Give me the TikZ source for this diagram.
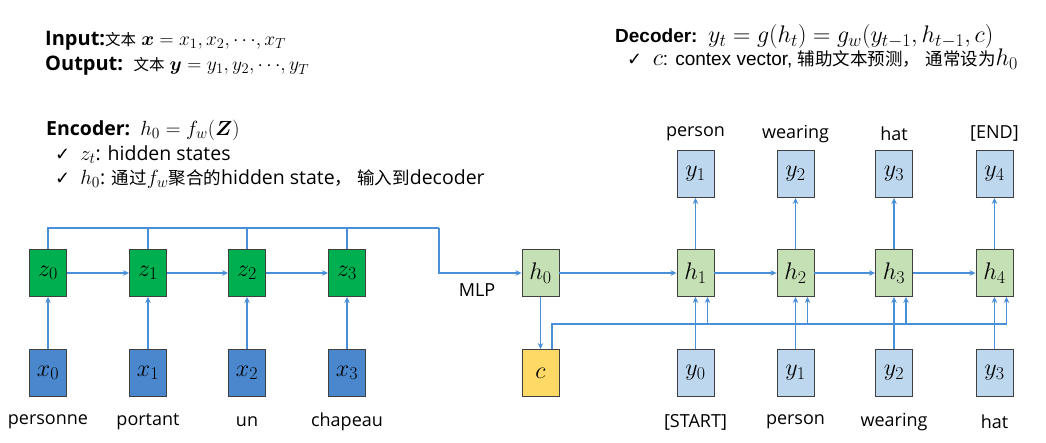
\RequirePackage{fix-cm}
\documentclass[tikz,border=0pt]{standalone}
\usepackage{amsmath,bm}
\usepackage{fontspec}
\setmainfont{Open Sans}
\newfontfamily\cjkf{Noto Sans CJK SC}
\newfontfamily\arialf{Liberation Sans}
\newfontfamily\dvf{DejaVu Sans}
\usetikzlibrary{arrows.meta}
\DeclareMathSizes{20}{19.5}{14.5}{11}
\DeclareMathSizes{19.5}{20.5}{15.5}{11.5}
\DeclareMathSizes{19}{24}{18}{13}
\DeclareMathSizes{24}{24}{18}{14}
\definecolor{ln}{HTML}{4A90D9}
\definecolor{zg}{HTML}{00B050}
\definecolor{xb}{HTML}{4A87CC}
\definecolor{hg}{HTML}{C5E0B4}
\definecolor{yb}{HTML}{BDD7EE}
\definecolor{cy}{HTML}{FFD966}
\tikzset{
  box/.style={draw=black!75, line width=0.9pt, minimum width=37pt, minimum height=47pt, inner sep=0pt, font=\fontsize{24}{26}\selectfont},
  zbox/.style={box, fill=zg},
  xbox/.style={box, fill=xb},
  hbox/.style={box, fill=hg},
  ybox/.style={box, fill=yb},
  cbox/.style={box, fill=cy},
  conn/.style={draw=ln, line width=1.4pt, -{Stealth[length=6pt,width=5.5pt]}},
  plainln/.style={draw=ln, line width=1.4pt},
  lab/.style={inner sep=0pt, font=\fontsize{18}{20}\selectfont},
  ttl/.style={anchor=west, inner sep=0pt, font=\fontsize{20}{22}\selectfont},
  txt/.style={anchor=west, inner sep=0pt, font=\fontsize{19.5}{22}\selectfont},
  dtxt/.style={anchor=west, inner sep=0pt, font=\arialf\fontsize{19}{22}\selectfont},
}
\newcommand{\ck}{{\dvf\fontsize{18}{20}\selectfont ✓}}
\newcommand{\zhs}[1]{{\cjkf\fontsize{15.5}{18}\selectfont #1}}
\newcommand{\zh}[1]{{\cjkf\fontsize{17.5}{20}\selectfont #1}}
\begin{document}
\begin{tikzpicture}[x=1pt,y=-1pt]
\useasboundingbox (0,0) rectangle (1046,443);
% titles
\node[ttl] (t1) at (45,41) {\textbf{Input:}\zhs{文本} $\bm{x} = x_1, x_2, {\cdots}, x_T$};
\node[ttl] (t2) at (45,66) {\textbf{Output:}\ \ \zhs{文本} $\bm{y} = y_1, y_2, {\cdots}, y_T$};
\node[txt] (e1) at (46,130) {\textbf{Encoder:}\ \ $h_0 = f_w(\bm{Z})$};
\node[txt] (e2) at (55,155) {\ck\ \ $z_t$: hidden states};
\node[txt] (e3) at (55,179) {\ck\ \ $h_0$: \zh{通过}$f_w$\zh{聚合的}hidden state\zh{，}\ \zh{输入到}decoder};
\node[dtxt] (d1) at (615,37) {\textbf{Decoder:}\ \ $y_t = g(h_t) = g_w(y_{t-1}, h_{t-1}, c)$};
\node[dtxt] (d2) at (627,59) {\ck\ \ $c$: contex vector, \zh{辅助文本预测，}\ \zh{通常设为}$h_0$};
% encoder
\foreach \i/\px in {0/48,1/148,2/247,3/347}{
  \node[zbox] (z\i) at (\px,273) {$z_\i$};
  \node[xbox] (x\i) at (\px,373) {$x_\i$};
}
\node[lab] (lx0) at (48,422) {personne};
\node[lab] (lx1) at (148,422) {portant};
\node[lab] (lx2) at (247,422) {un};
\node[lab] (lx3) at (347,422) {chapeau};
% decoder
\node[hbox] (h0) at (540.5,273) {$h_0$};
\node[cbox] (c) at (540.5,373) {$c$};
\foreach \i/\px in {1/695.5,2/795.5,3/894,4/994.5}{
  \node[hbox] (h\i) at (\px,273) {$h_\i$};
  \node[ybox] (yo\i) at (\px,174) {$y_\i$};
}
\foreach \i/\px in {0/695.5,1/795.5,2/894,3/994.5}{
  \node[ybox] (yi\i) at (\px,373) {$y_\i$};
}
\node[lab] (lt1) at (695.5,134) {person};
\node[lab] (lt2) at (795.5,134) {wearing};
\node[lab] (lt3) at (894,134) {hat};
\node[lab] (lt4) at (994.5,134) {[END]};
\node[lab] (lb0) at (695.5,422) {[START]};
\node[lab] (lb1) at (795.5,422) {person};
\node[lab] (lb2) at (894,422) {wearing};
\node[lab] (lb3) at (994.5,422) {hat};
\node[lab] (mlp) at (477,290) {MLP};
% encoder connectors
\foreach \i in {0,1,2,3}{ \draw[conn] (x\i) -- (z\i); }
\draw[conn] (z0) -- (z1);
\draw[conn] (z1) -- (z2);
\draw[conn] (z2) -- (z3);
\coordinate (bus) at (439,228);
\draw[plainln] (z0.north) |- (bus);
\foreach \i in {1,2,3}{ \draw[plainln] (z\i.north) -- (z\i.north |- bus); }
\draw[conn] (bus) |- (h0.west);
% decoder connectors
\draw[conn] (h0) -- (h1);
\draw[conn] (h1) -- (h2);
\draw[conn] (h2) -- (h3);
\draw[conn] (h3) -- (h4);
\draw[conn] (h0) -- (c);
\coordinate (cbus) at (0,324);
\draw[conn] ([xshift=11.5pt]c.north) |- ([xshift=12pt]h4.south |- cbus) -- ([xshift=12pt]h4.south);
\foreach \i in {1,2,3}{ \draw[conn] ([xshift=12pt]h\i.south |- cbus) -- ([xshift=12pt]h\i.south); }
\draw[conn] (yi0) -- (h1);
\draw[conn] (yi1) -- (h2);
\draw[conn] (yi2) -- (h3);
\draw[conn] (yi3) -- (h4);
\foreach \i in {1,2,3,4}{ \draw[conn] (h\i) -- (yo\i); }
\end{tikzpicture}
\end{document}
